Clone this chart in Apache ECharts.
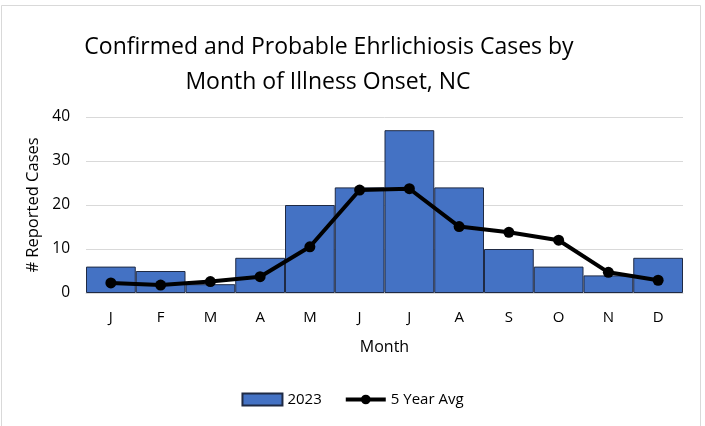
<!DOCTYPE html>
<html><head><meta charset="utf-8">
<script src="https://cdn.jsdelivr.net/npm/echarts@6/dist/echarts.min.js"></script>
<style>html,body{margin:0;padding:0;background:#fff}#c{width:705px;height:426px}</style>
</head><body><div id="c"></div>
<script>
const months = ['J','F','M','A','M','J','J','A','S','O','N','D'];
const cases2023 = [6,5,2,8,20,24,37,24,10,6,4,8];
const avg5yr = [2.3,1.8,2.6,3.7,10.5,23.4,23.7,15.1,13.8,12.0,4.7,2.9];
const yTicks = [0,10,20,30,40];
const titleLines = ['Confirmed and Probable Ehrlichiosis Cases by','Month of Illness Onset, NC'];
const FONT = '"Open Sans", "Noto Sans", sans-serif';

const chart = echarts.init(document.getElementById('c'), null, {renderer:'canvas'});
chart.setOption({
  animation:false,
  backgroundColor:'#fff',
  graphic:[
    {type:'rect', shape:{x:1.5,y:5.5,width:699,height:430}, style:{fill:'none',stroke:'#d9d9d9',lineWidth:1}},
    {type:'text', x:329, y:36, style:{text:titleLines[0], font:'23px '+FONT, fill:'#000', textAlign:'center', textVerticalAlign:'top'}},
    {type:'text', x:328, y:71, style:{text:titleLines[1], font:'23px '+FONT, fill:'#000', textAlign:'center', textVerticalAlign:'top'}}
  ],
  legend:{
    bottom:14, left:'center', itemGap:22, itemWidth:40, itemHeight:12,
    textStyle:{fontFamily:FONT, fontSize:15, color:'#000'},
    data:[
      {name:'2023', icon:'rect'},
      {name:'5 Year Avg', lineStyle:{width:4, color:'#000'}, itemStyle:{color:'#000'}}
    ]
  },
  grid:{left:86, right:22, top:117, bottom:133, containLabel:false},
  xAxis:{
    type:'category', data:months,
    name:'Month', nameLocation:'middle', nameGap:46,
    nameTextStyle:{fontFamily:FONT, fontSize:16, color:'#000'},
    axisTick:{show:false},
    axisLine:{lineStyle:{color:'#d9d9d9'}},
    axisLabel:{fontFamily:FONT, fontSize:15, color:'#000', margin:17}
  },
  yAxis:{
    type:'value', min:0, max:40, interval:10,
    name:'# Reported Cases', nameLocation:'middle', nameGap:44,
    nameTextStyle:{fontFamily:FONT, fontSize:16.5, color:'#000'},
    axisLine:{show:false}, axisTick:{show:false},
    axisLabel:{fontFamily:FONT, fontSize:15.5, color:'#000', margin:16,
      formatter:v=>yTicks.includes(v)?String(v):''},
    splitLine:{lineStyle:{color:'#d9d9d9'}}
  },
  series:[
    {name:'2023', type:'bar', data:cases2023, barCategoryGap:'0%',
     itemStyle:{color:'#4472C4', borderColor:'#1f2a44', borderWidth:1}},
    {name:'5 Year Avg', type:'line', data:avg5yr, symbol:'circle', symbolSize:11,
     lineStyle:{color:'#000', width:4}, itemStyle:{color:'#000'}}
  ]
});
</script></body></html>
